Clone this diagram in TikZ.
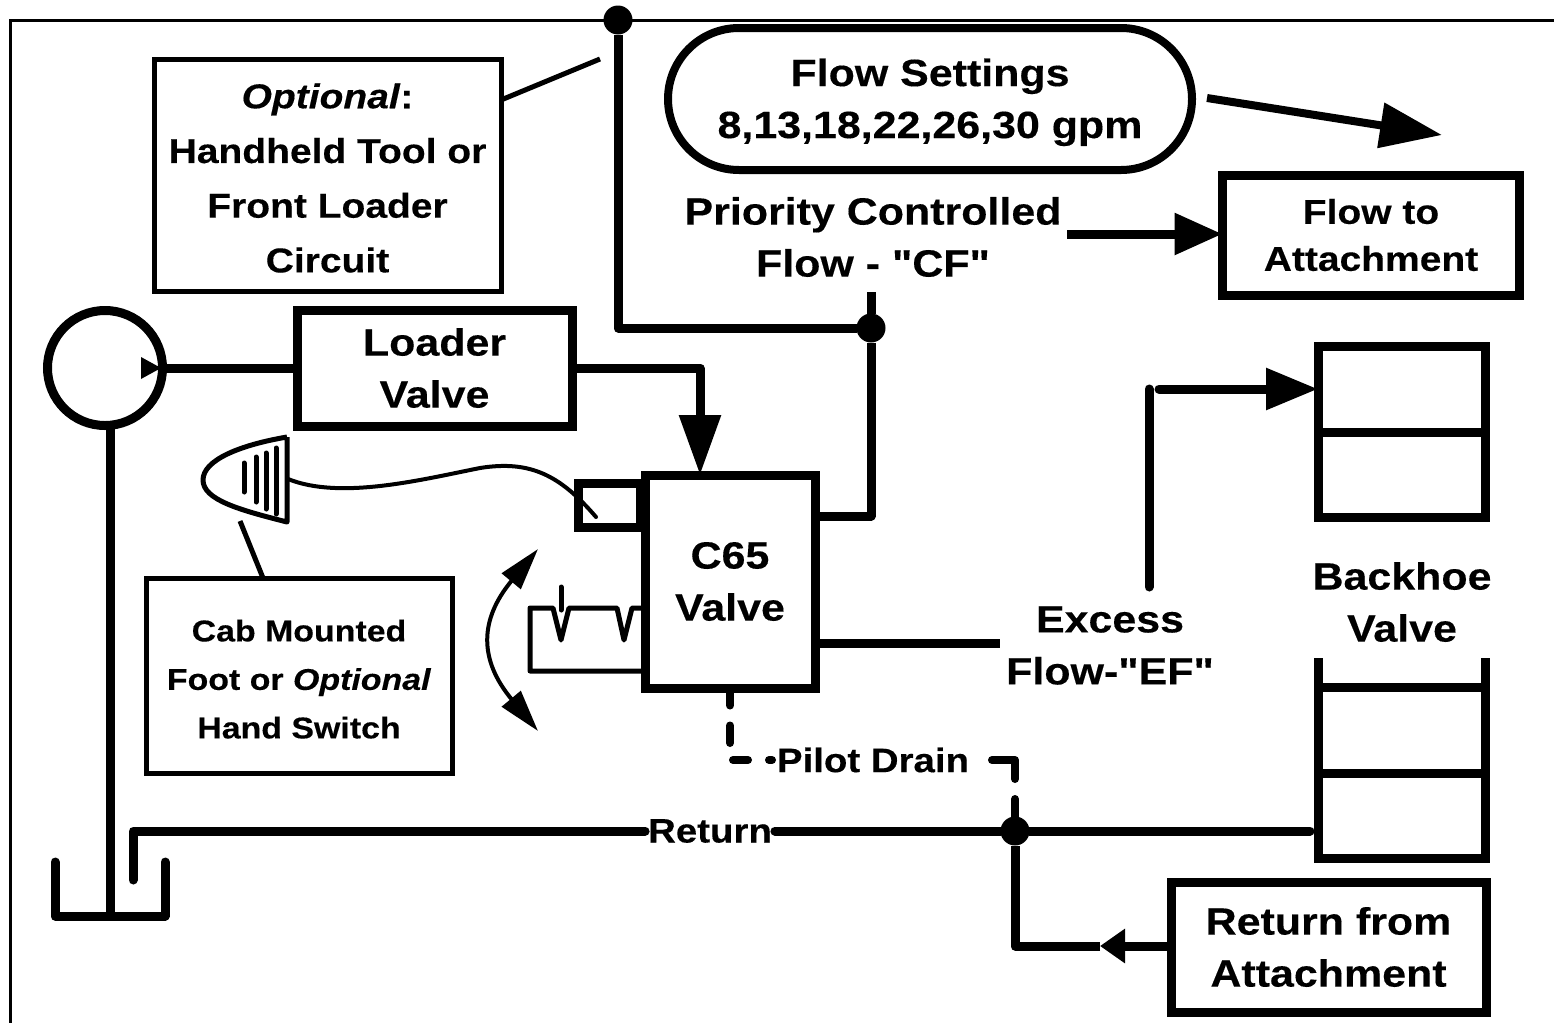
\documentclass[tikz,border=0pt]{standalone}
\usepackage{fontspec}
\setmainfont{Liberation Sans}[FakeStretch=1.13,FakeBold=0.3,Ligatures=TeXOff]
\usetikzlibrary{arrows.meta}
\usetikzlibrary{positioning,shapes.misc}

\begin{document}
\begin{tikzpicture}[%
        x=1pt, y=-1pt,
        every node/.style={inner sep=0pt, outer sep=0pt, align=center, font=\fontsize{38}{52}\selectfont\bfseries},
        box/.style={draw, line width=9pt, anchor=center},
        thinbox/.style={draw, line width=5pt, anchor=center},
        pipe/.style={line width=9pt, line join=round},
        thinline/.style={line width=5pt, line cap=round, line join=round},
        dashline/.style={line width=8pt, line cap=round, line join=round},
        dot/.style={circle, fill=black, minimum size=29pt},
        bigtip/.style={-{Triangle[length=60pt,width=40pt]}},
        midtip/.style={-{Triangle[length=48pt,width=40pt]}},
        >=latex
      ]
      \useasboundingbox (0,0) rectangle (1554,1023);
      \draw [line width=3pt] (1554,20) -- (10,20) -- (10,1023);
      % boxes
      \node [thinbox, minimum width=347pt, minimum height=232pt, font=\fontsize{34.5}{54.7}\selectfont\bfseries] (optional) at (327.5,175)
        {\rule{0pt}{31pt}\textit{Optional}:\\Handheld Tool or\\Front Loader\\Circuit};
      \node [box, rounded rectangle, line width=8pt, minimum width=524pt, minimum height=142pt] (settings) at (930,99)
        {\rule{0pt}{32pt}Flow Settings\\8,13,18,22,26,30 \smash{gpm}};
      \node [box, minimum width=297pt, minimum height=120pt, font=\fontsize{34.5}{47}\selectfont\bfseries] (attach) at (1371,235)
        {Flow to\\Attachment};
      \node [box, minimum width=275pt, minimum height=116pt] (loader) at (434.5,368) {Loader\\Valve};
      \node [box, minimum width=170pt, minimum height=213pt] (c65) at (730,581.5) {C65\\Valve};
      \node [box, minimum width=62pt, minimum height=44pt] (solenoid) at (609,505) {};
      \node [thinbox, minimum width=306pt, minimum height=195pt, font=\fontsize{30}{48.5}\selectfont\bfseries] (cab) at (299,675.5)
        {\rule{0pt}{29pt}Cab Mounted\\Foot or \textit{Optional}\\Hand Switch};
      \node [box, minimum width=315pt, minimum height=130pt] (retattach) at (1328.5,947)
        {Return from\\Attachment};
      % backhoe valve
      \node [box, minimum width=167pt, minimum height=86pt] (hoeA) at (1401.5,389) {};
      \node [box, minimum width=167pt, minimum height=85pt] (hoeB) at (1401.5,474.5) {};
      \node [box, minimum width=167pt, minimum height=86pt] (hoeC) at (1401.5,730) {};
      \node [box, minimum width=167pt, minimum height=85pt] (hoeD) at (1401.5,815.5) {};
      \coordinate (hoeCl) at (1318,658);
      \coordinate (hoeCr) at (1485,658);
      \draw [line width=9pt] (hoeCl) -- (hoeC.north west) (hoeCr) -- (hoeC.north east);
      \node (backhoe) at (1402,602) {Backhoe\\Valve};
      % labels
      \node (priority) at (873,237) {Priority Controlled\\Flow - "CF"};
      \node (excess) at (1110,645.5) {Excess\\Flow-"EF"};
      \node [font=\fontsize{34}{40}\selectfont\bfseries] (return) at (710,831) {Return};
      \node [font=\fontsize{34}{40}\selectfont\bfseries] (pilot) at (873,760) {Pilot Drain};
      % pump and tank
      \node [circle, draw, line width=9pt, minimum size=115pt] (pump) at (105,368) {};
      \coordinate (tankL) at (55,862);
      \coordinate (tankM) at (110,916);
      \coordinate (tankR) at (165,862);
      \draw [line width=9pt, line cap=round, line join=round] (tankL) |- (tankR |- tankM) -- (tankR);
      \draw [line width=9pt] (110,426) -- (tankM);
      \fill (141,357) -- (161,368) -- (141,379) -- cycle;
      \draw [line width=9pt] (pump.east) -- (loader.west);
      \draw [pipe, bigtip] (loader.east) -| (c65.north -| 700,0);
      % pressure line and dots
      \node [dot] (tee) at (871,328) {};
      \node [dot] (topdot) at (618,20) {};
      \coordinate (cfup) at (871,292);
      \coordinate (c65r) at (815,516);
      \draw [pipe] (topdot) |- (tee);
      \draw [pipe] (cfup) -- (tee) |- (c65r);
      \draw [line width=5pt] (optional.east |- 0,100) -- (600,59);
      \draw [pipe] (c65.east |- 0,643) -- (1000,643);
      % flow arrows
      \coordinate (flowS) at (1207,98);
      \coordinate (flowE) at (1442,135);
      \draw [line width=8pt, -{Triangle[length=62pt,width=44pt]}] (flowS) -- (flowE);
      \coordinate (prioR) at (1067,234);
      \draw [pipe, midtip] (prioR) -- (attach.west |- prioR);
      \coordinate (efup) at (1149,587);
      \coordinate (efcorner) at (1149,389);
      \coordinate (efstart) at (1159,389);
      \draw [pipe, line cap=round] (efup) -- (efcorner);
      \draw [pipe, line cap=round, -{Triangle[length=52pt,width=40pt]}] (efstart) -- (hoeA.west);
      % return lines
      \node [dot] (joint) at (1015,831) {};
      \coordinate (retin) at (133,880);
      \coordinate (hoeret) at (1310,831);
      \coordinate (retcorner) at (1015,946);
      \coordinate (rettip) at (1100,946);
      \draw [line width=9pt, line cap=round, line join=round] (retin) |- ([xshift=-3pt]return.west);
      \draw [line width=9pt, line cap=round] ([xshift=3pt]return.east) -- (joint) -- (hoeret);
      \draw [pipe, -{Triangle[length=25pt,width=33pt]}] (retattach.west |- rettip) -- (rettip);
      \draw [pipe] (rettip) -- (retcorner) -- (joint);
      % pilot drain
      \coordinate (pilotA) at (730,688);
      \coordinate (pilotB) at (730,746);
      \coordinate (pilotC) at (733,760);
      \coordinate (pilotD) at (772,760);
      \coordinate (pilotE) at (992,760);
      \draw [dashline, dash pattern=on 17.5pt off 20pt] (pilotA) -- (pilotB);
      \draw [dashline, dash pattern=on 15pt off 21pt] (pilotC) -- (pilotD);
      \draw [dashline, dash pattern=on 42pt off 20pt] (pilotE) -| (joint);
      % foot switch
      \coordinate (swT) at (287,437);
      \coordinate (swB) at (287,522);
      \coordinate (swN) at (203,480);
      \draw [line width=5pt, line join=round] (swT) -- (swB)
        .. controls (240,510) and (203,500) .. (swN)
        .. controls (203,460) and (240,445) .. (swT);
      \foreach \hx/\hy/\hz in {244/463/492, 256/457/502, 266/453/509, 276/448/514}
        \draw [line width=5pt, line cap=round] (\hx,\hy) -- (\hx,\hz);
      \draw [line width=4pt, line cap=round] (288,479) .. controls (340,500) and (420,480) .. (480,468)
        .. controls (530,460) and (560,475) .. (596,517);
      \draw [line width=5pt] (240,521) -- (cab.north -| 263,0);
      % detent
      \coordinate (detR) at (645,608);
      \coordinate (detB) at (645,671);
      \draw [thinline] (detR) -- (632,608) -- (624,640) -- (617,608) -- (569,608) -- (561,640) -- (553,608) -- (530,608) |- (detB);
      \draw [thinline] (561,587) -- (561,610);
      % travel arrow
      \coordinate (travA) at (538,549);
      \coordinate (travB) at (538,731);
      \draw [line width=4pt, {Triangle[length=42pt,width=24pt]}-{Triangle[length=42pt,width=24pt]}] (travA)
        .. controls (479,620) and (479,660) .. (travB);
    \end{tikzpicture}
\end{document}
